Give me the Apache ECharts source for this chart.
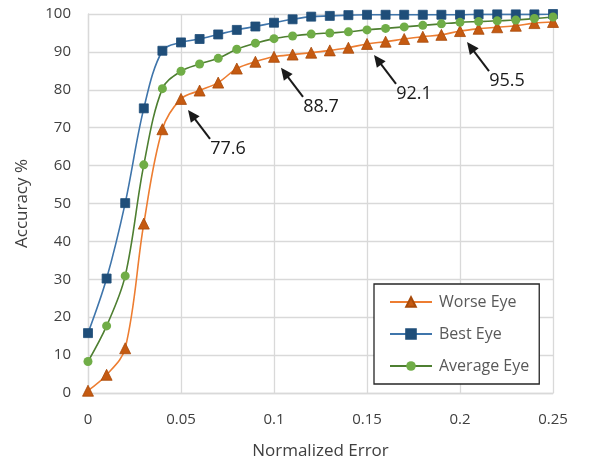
<!DOCTYPE html>
<html><head><meta charset="utf-8">
<script src="https://cdn.jsdelivr.net/npm/echarts@6/dist/echarts.min.js"></script>
<style>html,body{margin:0;padding:0;background:#fff}#c{width:590px;height:465px}</style>
</head><body><div id="c"></div>
<script>
// ---- data ----
const errors = [0,0.01,0.02,0.03,0.04,0.05,0.06,0.07,0.08,0.09,0.10,0.11,0.12,0.13,0.14,0.15,0.16,0.17,0.18,0.19,0.20,0.21,0.22,0.23,0.24,0.25];
const worseEye = [0.6,4.8,11.8,44.7,69.6,77.6,79.8,81.9,85.6,87.4,88.7,89.3,89.8,90.4,91.1,92.1,92.7,93.4,94.0,94.5,95.5,96.1,96.5,96.9,97.6,97.9];
const bestEye = [15.8,30.2,50.1,75.1,90.3,92.5,93.4,94.6,95.8,96.7,97.7,98.6,99.3,99.5,99.7,99.8,99.8,99.8,99.8,99.8,99.8,99.9,99.9,99.9,99.9,100];
const averageEye = [8.3,17.7,30.9,60.2,80.3,84.9,86.8,88.3,90.7,92.3,93.5,94.2,94.7,95.0,95.3,95.8,96.2,96.6,97.0,97.4,97.8,98.0,98.2,98.4,98.8,99.2];
const seriesNames = ['Worse Eye','Best Eye','Average Eye'];
const annotatedX = [0.05,0.10,0.15,0.20];
const annotatedLabels = ['77.6','88.7','92.1','95.5'];

const FONT = 'Open Sans';
const pairs = arr => errors.map((x,i)=>[x,arr[i]]);

const chart = echarts.init(document.getElementById('c'), null, {renderer:'canvas'});
const option = {
  animation:false,
  backgroundColor:'#fff',
  textStyle:{fontFamily:FONT},
  grid:{left:88,right:37,top:14,bottom:71,containLabel:false},
  xAxis:{
    type:'value',min:0,max:0.25,interval:0.05,
    name:'Normalized Error',nameLocation:'middle',nameGap:50,
    nameTextStyle:{color:'#404040',fontSize:17,fontFamily:FONT},
    axisLine:{show:true,lineStyle:{color:'#d9d9d9',width:1.3}},
    axisTick:{show:false},
    axisLabel:{color:'#404040',fontSize:15,margin:19,fontFamily:FONT,
      formatter:v=>String(+v.toFixed(2))},
    splitLine:{show:true,lineStyle:{color:'#d9d9d9',width:1.3}}
  },
  yAxis:{
    type:'value',min:0,max:100,interval:10,
    name:'Accuracy %',nameLocation:'middle',nameGap:57,
    nameTextStyle:{color:'#404040',fontSize:17,fontFamily:FONT},
    axisLine:{show:true,lineStyle:{color:'#d9d9d9',width:1.3}},
    axisTick:{show:false},
    axisLabel:{color:'#404040',fontSize:15,margin:17,fontFamily:FONT},
    splitLine:{show:true,lineStyle:{color:'#d9d9d9',width:1.3}}
  },
  legend:{
    orient:'vertical',left:374,top:284,
    data:seriesNames,
    backgroundColor:'#fff',
    borderColor:'#262626',borderWidth:1.3,
    padding:[10,10,10,15],itemGap:16,itemWidth:42,itemHeight:12,
    textStyle:{color:'#595959',fontSize:16,fontFamily:FONT,padding:[0,0,0,2]}
  },
  series:[
    {name:seriesNames[0],type:'line',data:pairs(worseEye),smooth:0.35,
     symbol:'triangle',symbolSize:11,
     lineStyle:{color:'#ED7D31',width:1.6},
     itemStyle:{color:'#C55A11',borderColor:'#A84A0A',borderWidth:0.8},z:3},
    {name:seriesNames[1],type:'line',data:pairs(bestEye),smooth:0.35,
     symbol:'rect',symbolSize:9,
     lineStyle:{color:'#3F75AB',width:1.6},
     itemStyle:{color:'#1F4E79',borderColor:'#1F4E79',borderWidth:0.8},z:3},
    {name:seriesNames[2],type:'line',data:pairs(averageEye),smooth:0.35,
     symbol:'circle',symbolSize:9,
     lineStyle:{color:'#4E7F31',width:1.6},
     itemStyle:{color:'#70AD47',borderColor:'#70AD47',borderWidth:0},z:3}
  ]
};
chart.setOption(option);

// arrows + labels anchored to the data points of the worse-eye series
const TIP=[7,11], TAIL=[29,40], TXT=[47,50];
const graphics=[];
annotatedX.forEach((x,k)=>{
  const i = errors.findIndex(e=>Math.abs(e-x)<1e-9);
  const p = chart.convertToPixel({gridIndex:0},[x,worseEye[i]]);
  const tip=[p[0]+TIP[0],p[1]+TIP[1]], tail=[p[0]+TAIL[0],p[1]+TAIL[1]];
  const dx=tip[0]-tail[0], dy=tip[1]-tail[1], L=Math.hypot(dx,dy);
  const ux=dx/L, uy=dy/L, nx=-uy, ny=ux, hl=12, hw=5.5;
  graphics.push({type:'line',shape:{x1:tail[0],y1:tail[1],x2:tip[0]-ux*(hl-2),y2:tip[1]-uy*(hl-2)},
    style:{stroke:'#1a1a1a',lineWidth:2},z:10});
  graphics.push({type:'polygon',shape:{points:[tip,[tip[0]-ux*hl+nx*hw,tip[1]-uy*hl+ny*hw],[tip[0]-ux*hl-nx*hw,tip[1]-uy*hl-ny*hw]]},
    style:{fill:'#1a1a1a'},z:10});
  graphics.push({type:'text',x:p[0]+TXT[0],y:p[1]+TXT[1],
    style:{text:annotatedLabels[k],fill:'#1a1a1a',font:'18px "'+FONT+'"',align:'center',verticalAlign:'middle'},z:10});
});
chart.setOption({graphic:graphics});
</script></body></html>
